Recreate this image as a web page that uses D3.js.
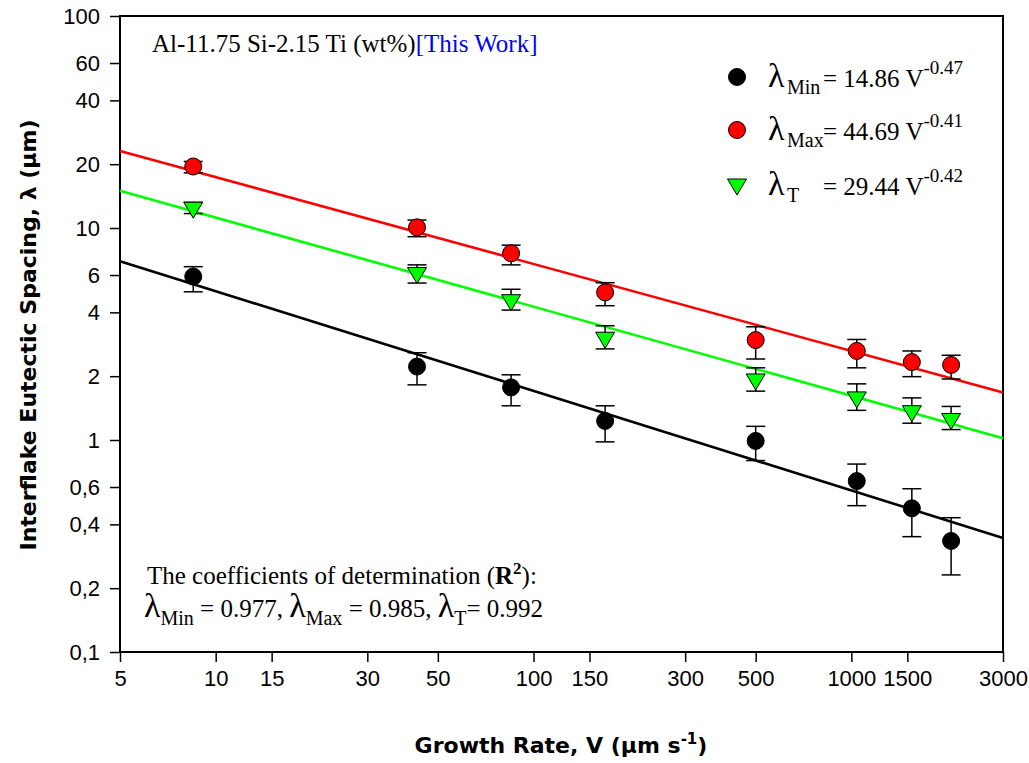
<!DOCTYPE html>
<html>
<head>
<meta charset="utf-8">
<script src="https://cdn.jsdelivr.net/npm/d3@7"></script>
<style>
  body { margin: 0; background: #fff; }
  svg { display: block; }
</style>
</head>
<body>
<svg id="chart" width="1029" height="763"></svg>
<script>
// ---- data ----
const growthRate = [8.5, 43, 85, 168, 500, 1040, 1550, 2060];

const lambdaMin     = [5.9, 2.22, 1.77, 1.23, 0.99, 0.64, 0.476, 0.334];
const lambdaMinLow  = [5.0, 1.82, 1.45, 0.98, 0.80, 0.49, 0.35, 0.231];
const lambdaMinHigh = [6.57, 2.58, 2.03, 1.45, 1.16, 0.77, 0.589, 0.43];

const lambdaMax     = [19.5, 10.07, 7.6, 4.97, 2.96, 2.63, 2.33, 2.26];
const lambdaMaxLow  = [18.2, 9.1, 6.7, 4.3, 2.41, 2.19, 1.99, 1.94];
const lambdaMaxHigh = [20.6, 10.9, 8.3, 5.52, 3.42, 2.98, 2.63, 2.51];

const lambdaT     = [12.4, 6.1, 4.54, 3.02, 1.92, 1.58, 1.36, 1.25];
const lambdaTLow  = [11.7, 5.5, 4.1, 2.69, 1.70, 1.38, 1.20, 1.12];
const lambdaTHigh = [13.2, 6.7, 5.14, 3.46, 2.19, 1.84, 1.58, 1.44];

// fitted power laws  lambda = k * V^n
const fitNames = ['Min', 'Max', 'T'];
const fitK = [14.86, 44.69, 29.44];
const fitN = [-0.47, -0.41, -0.42];
const r2Values = [0.977, 0.985, 0.992];

const xTicks = [5, 10, 15, 30, 50, 100, 150, 300, 500, 1000, 1500, 3000];
const yTicks = [0.1, 0.2, 0.4, 0.6, 1, 2, 4, 6, 10, 20, 40, 60, 100];

// ---- layout ----
const svg = d3.select('#chart');
const plotL = 120, plotR = 1003, plotT = 16, plotB = 652;

const x = d3.scaleLog().domain([5, 3000]).range([plotL, plotR]);
const y = d3.scaleLog().domain([0.1, 100]).range([plotB, plotT]);

const serif = '"Liberation Serif", "Times New Roman", serif';
const sans = '"Liberation Sans", Arial, sans-serif';
const bold = '"DejaVu Sans", Verdana, sans-serif';

// axes
const yFmt = d => d < 1 ? String(d).replace('.', ',') : String(d);

const gx = svg.append('g')
    .attr('transform', `translate(0,${plotB})`)
    .call(d3.axisBottom(x).tickValues(xTicks).tickFormat(d => String(d))
        .tickSize(10).tickSizeOuter(0).tickPadding(8));
const gy = svg.append('g')
    .attr('transform', `translate(${plotL},0)`)
    .call(d3.axisLeft(y).tickValues(yTicks).tickFormat(yFmt)
        .tickSize(10).tickSizeOuter(0).tickPadding(10));

[gx, gy].forEach(g => {
    g.select('.domain').remove();
    g.selectAll('.tick line').attr('stroke', '#000').attr('stroke-width', 1.5);
    g.selectAll('.tick text').attr('fill', '#000')
        .style('font-family', sans).style('font-size', '22px');
});

// frame
svg.append('rect')
    .attr('x', plotL).attr('y', plotT)
    .attr('width', plotR - plotL).attr('height', plotB - plotT)
    .attr('fill', 'none').attr('stroke', '#000').attr('stroke-width', 2);

// fit lines
const fitColors = ['#000000', '#ff0000', '#00ff00'];
const line = d3.line().x(d => x(d[0])).y(d => y(d[1]));
fitK.forEach((k, i) => {
    const pts = x.domain().map(v => [v, k * Math.pow(v, fitN[i])]);
    svg.append('path')
        .attr('d', line(pts))
        .attr('fill', 'none')
        .attr('stroke', fitColors[i])
        .attr('stroke-width', 2.6);
});

// series
const series = [
    { vals: lambdaMin, low: lambdaMinLow, high: lambdaMinHigh, shape: 'circle', fill: '#000000' },
    { vals: lambdaMax, low: lambdaMaxLow, high: lambdaMaxHigh, shape: 'circle', fill: '#ff0000' },
    { vals: lambdaT,   low: lambdaTLow,   high: lambdaTHigh,   shape: 'tri',    fill: '#00ff00' }
];

const capW = 9.5;
const triPath = 'M-9.5,-6L9.5,-6L0,10Z';

series.forEach(s => {
    const g = svg.append('g');
    growthRate.forEach((v, i) => {
        const cx = x(v);
        g.append('line')
            .attr('x1', cx).attr('x2', cx)
            .attr('y1', y(s.low[i])).attr('y2', y(s.high[i]))
            .attr('stroke', '#000').attr('stroke-width', 1.5);
        [s.low[i], s.high[i]].forEach(e => {
            g.append('line')
                .attr('x1', cx - capW).attr('x2', cx + capW)
                .attr('y1', y(e)).attr('y2', y(e))
                .attr('stroke', '#000').attr('stroke-width', 1.5);
        });
    });
    growthRate.forEach((v, i) => {
        if (s.shape === 'circle') {
            g.append('circle')
                .attr('cx', x(v)).attr('cy', y(s.vals[i])).attr('r', 8.5)
                .attr('fill', s.fill).attr('stroke', '#000').attr('stroke-width', 1);
        } else {
            g.append('path')
                .attr('d', triPath)
                .attr('transform', `translate(${x(v)},${y(s.vals[i])})`)
                .attr('fill', s.fill).attr('stroke', '#000').attr('stroke-width', 1);
        }
    });
});

// title
const title = svg.append('text')
    .attr('x', 152).attr('y', 52)
    .style('font-family', serif).style('font-size', '25px');
title.append('tspan').attr('fill', '#000').text('Al-11.75 Si-2.15 Ti (wt%)');
title.append('tspan').attr('fill', '#0000ff').text('[This Work]');

// legend
const legendY = [77, 130, 185];
series.forEach((s, si) => {
    const cy = legendY[si];
    if (s.shape === 'circle') {
        svg.append('circle').attr('cx', 737).attr('cy', cy).attr('r', 8.5)
            .attr('fill', s.fill).attr('stroke', '#000').attr('stroke-width', 1);
    } else {
        svg.append('path').attr('d', triPath)
            .attr('transform', `translate(737,${cy})`)
            .attr('fill', s.fill).attr('stroke', '#000').attr('stroke-width', 1);
    }
    const base = cy + 10;
    const t = svg.append('text').attr('x', 768).attr('y', base)
        .style('font-family', serif).attr('fill', '#000');
    t.append('tspan').style('font-size', '34px').text('λ');
    t.append('tspan').attr('x', 787).attr('dy', 7).style('font-size', '20px').text(fitNames[si]);
    t.append('tspan').attr('x', 823).attr('dy', -7).style('font-size', '25px')
        .text('= ' + fitK[si].toFixed(2) + ' V');
    t.append('tspan').attr('dy', -13).style('font-size', '19px').text(fitN[si].toFixed(2));
});

// R^2 note
const note1 = svg.append('text').attr('x', 147).attr('y', 584)
    .style('font-family', serif).style('font-size', '25px').attr('fill', '#000');
note1.append('tspan').text('The coefficients of determination (');
note1.append('tspan').style('font-weight', 'bold').text('R');
note1.append('tspan').attr('dy', -10).style('font-size', '17px').style('font-weight', 'bold').text('2');
note1.append('tspan').attr('dy', 10).text('):');

const note2 = svg.append('text').attr('x', 144).attr('y', 617)
    .style('font-family', serif).style('font-size', '25px').attr('fill', '#000');
fitNames.forEach((n, i) => {
    note2.append('tspan').style('font-size', '34px').text('λ');
    note2.append('tspan').attr('dy', 8).style('font-size', '20px').text(n);
    const sep = i < 2 ? ', ' : '';
    const eq = i < 2 ? ' = ' : '= ';
    note2.append('tspan').attr('dy', -8).text(eq + r2Values[i].toFixed(3) + sep);
});

// axis titles
svg.append('text')
    .attr('x', 561).attr('y', 753)
    .attr('text-anchor', 'middle')
    .style('font-family', bold).style('font-weight', 'bold').style('font-size', '22px')
    .call(t => {
        t.append('tspan').text('Growth Rate, V (µm s');
        t.append('tspan').attr('dy', -9).style('font-size', '15px').text('-1');
        t.append('tspan').attr('dy', 9).text(')');
    });

svg.append('text')
    .attr('transform', 'translate(36,335) rotate(-90)')
    .attr('text-anchor', 'middle')
    .style('font-family', bold).style('font-weight', 'bold').style('font-size', '22px')
    .text('Interflake Eutectic Spacing, λ (µm)');
</script>
</body>
</html>
